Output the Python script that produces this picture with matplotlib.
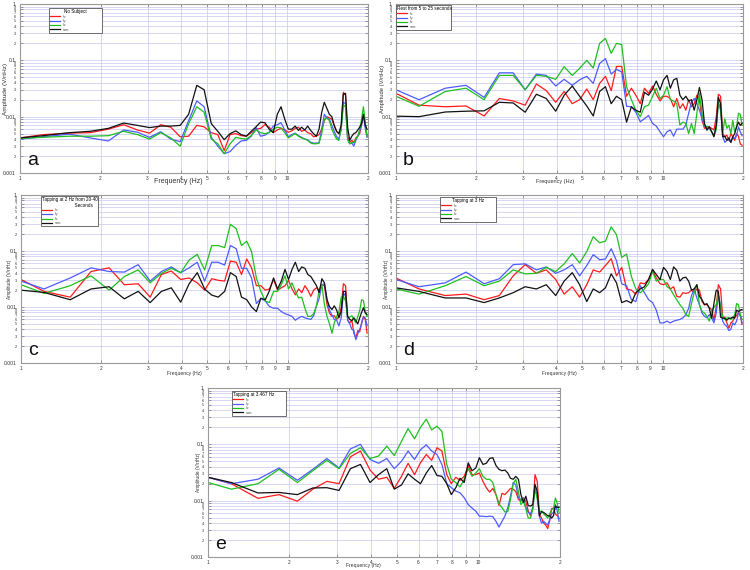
import matplotlib
matplotlib.use("Agg")
import matplotlib.pyplot as plt

plt.rcParams['font.family'] = ['Liberation Sans', 'DejaVu Sans']

freq = [1.0, 1.22, 1.53, 1.83, 2.14, 2.44, 2.75, 3.05, 3.36, 3.66, 3.97, 4.27, 4.58, 4.88, 5.19,
        5.49, 5.80, 6.10, 6.41, 6.71, 7.02, 7.32, 7.63, 7.93, 8.24, 8.54, 8.85, 9.16, 9.46, 9.77,
        10.07, 10.38, 10.68, 10.99, 11.29, 11.60, 11.90, 12.21, 12.51, 12.82, 13.12, 13.43, 13.73,
        14.04, 14.34, 14.65, 14.95, 15.26, 15.56, 15.87, 16.17, 16.48, 16.78, 17.09, 17.40, 17.70,
        18.01, 18.31, 18.62, 18.92, 19.23, 19.53, 19.84]

# Panel a: No Subject
a_x = [0.0042, 0.0048, 0.0051, 0.0052, 0.0060, 0.0072, 0.0058, 0.0051, 0.0072, 0.0065,
       0.0044, 0.0045, 0.0070, 0.0066, 0.0052, 0.0048, 0.0025, 0.0048, 0.0050, 0.0046,
       0.0045, 0.0052, 0.0060, 0.0062, 0.0072, 0.0065, 0.0052, 0.0058, 0.0062, 0.0058,
       0.0053, 0.0056, 0.0062, 0.0065, 0.0055, 0.0058, 0.0052, 0.0050, 0.0044, 0.0045,
       0.0048, 0.0060, 0.0085, 0.0100, 0.0095, 0.0090, 0.0070, 0.0055, 0.0050, 0.0060,
       0.0270, 0.0240, 0.0045, 0.0035, 0.0038, 0.0035, 0.0042, 0.0045, 0.0050, 0.0070,
       0.0110, 0.0070, 0.0045]
a_y = [0.0040, 0.0044, 0.0049, 0.0042, 0.0037, 0.0058, 0.0053, 0.0043, 0.0054, 0.0040,
       0.0036, 0.0085, 0.0190, 0.0150, 0.0043, 0.0030, 0.0022, 0.0024, 0.0031, 0.0037,
       0.0038, 0.0045, 0.0064, 0.0045, 0.0047, 0.0053, 0.0068, 0.0072, 0.0078, 0.0058,
       0.0044, 0.0048, 0.0051, 0.0046, 0.0043, 0.0040, 0.0039, 0.0035, 0.0034, 0.0034,
       0.0034, 0.0060, 0.0110, 0.0095, 0.0090, 0.0070, 0.0055, 0.0044, 0.0040, 0.0060,
       0.0180, 0.0170, 0.0040, 0.0033, 0.0034, 0.0030, 0.0038, 0.0045, 0.0055, 0.0075,
       0.0105, 0.0062, 0.0043]
a_z = [0.0041, 0.0043, 0.0045, 0.0045, 0.0046, 0.0055, 0.0048, 0.0040, 0.0052, 0.0042,
       0.0030, 0.0075, 0.0150, 0.0120, 0.0040, 0.0033, 0.0022, 0.0033, 0.0043, 0.0041,
       0.0040, 0.0046, 0.0058, 0.0052, 0.0050, 0.0052, 0.0060, 0.0065, 0.0063, 0.0052,
       0.0042, 0.0046, 0.0050, 0.0045, 0.0042, 0.0040, 0.0038, 0.0034, 0.0033, 0.0033,
       0.0034, 0.0050, 0.0090, 0.0095, 0.0085, 0.0060, 0.0048, 0.0040, 0.0038, 0.0060,
       0.0160, 0.0150, 0.0040, 0.0033, 0.0035, 0.0034, 0.0040, 0.0045, 0.0060, 0.0090,
       0.0150, 0.0080, 0.0045]
a_sum = [0.0042, 0.0046, 0.0052, 0.0055, 0.0062, 0.0077, 0.0070, 0.0064, 0.0068, 0.0068,
         0.0070, 0.0110, 0.0360, 0.0300, 0.0075, 0.0055, 0.0039, 0.0050, 0.0056, 0.0048,
         0.0045, 0.0055, 0.0066, 0.0080, 0.0078, 0.0060, 0.0052, 0.0110, 0.0150, 0.0090,
         0.0060, 0.0060, 0.0068, 0.0057, 0.0065, 0.0058, 0.0068, 0.0057, 0.0050, 0.0045,
         0.0060, 0.0120, 0.0180, 0.0140, 0.0110, 0.0100, 0.0070, 0.0055, 0.0050, 0.0070,
         0.0250, 0.0260, 0.0065, 0.0038, 0.0045, 0.0050, 0.0052, 0.0058, 0.0065, 0.0075,
         0.0110, 0.0070, 0.0060]

# Panel b: Rest
b_x = [0.026, 0.016, 0.015, 0.0155, 0.0103, 0.021, 0.019, 0.016, 0.038, 0.029,
       0.018, 0.028, 0.017, 0.020, 0.031, 0.020, 0.039, 0.052, 0.029, 0.078,
       0.078, 0.023, 0.032, 0.024, 0.017, 0.032, 0.026, 0.035, 0.025, 0.019,
       0.023, 0.023, 0.021, 0.015, 0.021, 0.014, 0.017, 0.013, 0.020, 0.015,
       0.017, 0.024, 0.020, 0.0086, 0.0062, 0.0066, 0.0066, 0.0062, 0.0058, 0.0098,
       0.025, 0.023, 0.0050, 0.0044, 0.0047, 0.0038, 0.0050, 0.0044, 0.0038, 0.0050,
       0.0045, 0.0033, 0.0031]
b_y = [0.030, 0.020, 0.032, 0.036, 0.022, 0.060, 0.060, 0.030, 0.057, 0.054,
       0.035, 0.046, 0.036, 0.045, 0.052, 0.039, 0.088, 0.107, 0.057, 0.069,
       0.062, 0.0153, 0.015, 0.012, 0.0081, 0.0092, 0.0105, 0.0076, 0.0068, 0.0054,
       0.0044, 0.0054, 0.0058, 0.0045, 0.0060, 0.0060, 0.0060, 0.0071, 0.0115, 0.018,
       0.021, 0.017, 0.013, 0.0092, 0.0070, 0.0058, 0.0066, 0.0054, 0.0046, 0.0066,
       0.017, 0.015, 0.0045, 0.0035, 0.0038, 0.0039, 0.0035, 0.0044, 0.0041, 0.0046,
       0.0066, 0.0054, 0.0046]
b_z = [0.023, 0.0153, 0.028, 0.032, 0.020, 0.054, 0.054, 0.030, 0.054, 0.052,
       0.046, 0.077, 0.054, 0.072, 0.100, 0.073, 0.200, 0.245, 0.133, 0.200,
       0.190, 0.034, 0.020, 0.013, 0.010, 0.015, 0.016, 0.023, 0.032, 0.021,
       0.024, 0.034, 0.020, 0.019, 0.017, 0.0071, 0.0080, 0.0076, 0.0050, 0.0076,
       0.0050, 0.0115, 0.026, 0.0115, 0.0071, 0.0066, 0.0062, 0.0054, 0.0046, 0.0058,
       0.018, 0.013, 0.0050, 0.0092, 0.0062, 0.0071, 0.0050, 0.0086, 0.0054, 0.0066,
       0.0115, 0.011, 0.0071]
b_sum = [0.0102, 0.0100, 0.0121, 0.0125, 0.0127, 0.018, 0.0175, 0.012, 0.025, 0.021,
         0.0125, 0.024, 0.035, 0.023, 0.0155, 0.0103, 0.028, 0.034, 0.017, 0.023,
         0.020, 0.0080, 0.015, 0.013, 0.012, 0.027, 0.024, 0.031, 0.043, 0.030,
         0.045, 0.054, 0.032, 0.045, 0.048, 0.024, 0.020, 0.023, 0.019, 0.020,
         0.013, 0.020, 0.033, 0.020, 0.0076, 0.0058, 0.0066, 0.0054, 0.0044, 0.0070,
         0.022, 0.017, 0.0044, 0.0045, 0.0038, 0.0042, 0.0035, 0.0044, 0.0050, 0.0066,
         0.0080, 0.0070, 0.0076]

# Panel c: Tapping at 2 Hz
c_x = [0.031, 0.019, 0.015, 0.043, 0.050, 0.025, 0.026, 0.015, 0.038, 0.044,
       0.031, 0.033, 0.027, 0.020, 0.032, 0.030, 0.029, 0.066, 0.063, 0.038,
       0.072, 0.050, 0.024, 0.024, 0.020, 0.021, 0.031, 0.020, 0.022, 0.024,
       0.030, 0.021, 0.0165, 0.021, 0.018, 0.024, 0.020, 0.0155, 0.020, 0.022,
       0.020, 0.025, 0.024, 0.011, 0.0078, 0.0068, 0.0070, 0.0060, 0.0068, 0.0098,
       0.026, 0.024, 0.0058, 0.0052, 0.0058, 0.0034, 0.0028, 0.0038, 0.0036, 0.0052,
       0.0068, 0.0060, 0.0034]
c_y = [0.029, 0.021, 0.033, 0.050, 0.043, 0.042, 0.057, 0.029, 0.043, 0.052,
       0.041, 0.050, 0.063, 0.029, 0.063, 0.063, 0.056, 0.125, 0.110, 0.049,
       0.049, 0.033, 0.0115, 0.0143, 0.0128, 0.0102, 0.0095, 0.0095, 0.0083, 0.0076,
       0.0072, 0.0068, 0.0058, 0.0064, 0.0068, 0.0064, 0.0062, 0.0060, 0.0070, 0.0105,
       0.0143, 0.025, 0.026, 0.0135, 0.0088, 0.0072, 0.0060, 0.0058, 0.0046, 0.0064,
       0.018, 0.0155, 0.0058, 0.0050, 0.0040, 0.0038, 0.0026, 0.0033, 0.0040, 0.0050,
       0.0066, 0.0064, 0.0046]
c_z = [0.025, 0.0175, 0.024, 0.036, 0.020, 0.035, 0.046, 0.027, 0.040, 0.049,
       0.041, 0.069, 0.087, 0.046, 0.125, 0.125, 0.115, 0.300, 0.250, 0.125,
       0.150, 0.097, 0.033, 0.019, 0.0128, 0.012, 0.019, 0.019, 0.025, 0.036,
       0.021, 0.027, 0.019, 0.0145, 0.015, 0.0095, 0.0068, 0.0068, 0.0076, 0.0105,
       0.020, 0.025, 0.011, 0.0068, 0.0050, 0.0034, 0.0052, 0.0068, 0.0083, 0.0150,
       0.0155, 0.0128, 0.0064, 0.0066, 0.0070, 0.0060, 0.0052, 0.0068, 0.0086, 0.0135,
       0.0130, 0.0083, 0.0068]
c_sum = [0.020, 0.0182, 0.0135, 0.021, 0.023, 0.014, 0.019, 0.012, 0.019, 0.022,
         0.0122, 0.026, 0.041, 0.021, 0.0163, 0.015, 0.019, 0.041, 0.035, 0.015,
         0.0135, 0.010, 0.0083, 0.0143, 0.0135, 0.0195, 0.033, 0.021, 0.029, 0.047,
         0.031, 0.047, 0.063, 0.043, 0.052, 0.049, 0.038, 0.035, 0.029, 0.024,
         0.018, 0.032, 0.027, 0.0135, 0.0102, 0.0090, 0.0105, 0.0088, 0.0064, 0.0083,
         0.019, 0.019, 0.0068, 0.0060, 0.0057, 0.0064, 0.0057, 0.0050, 0.0064, 0.0080,
         0.0097, 0.0078, 0.0073]

# Panel d: Tapping at 3 Hz
d_x = [0.033, 0.021, 0.016, 0.017, 0.0135, 0.016, 0.036, 0.057, 0.040, 0.046,
       0.031, 0.017, 0.023, 0.015, 0.025, 0.046, 0.042, 0.055, 0.073, 0.036,
       0.051, 0.021, 0.020, 0.017, 0.027, 0.026, 0.031, 0.045, 0.033, 0.026,
       0.025, 0.027, 0.021, 0.023, 0.0155, 0.015, 0.018, 0.0175, 0.018, 0.020,
       0.018, 0.021, 0.020, 0.0125, 0.011, 0.011, 0.0098, 0.0090, 0.0058, 0.010,
       0.025, 0.021, 0.0066, 0.0066, 0.0052, 0.0042, 0.0052, 0.0056, 0.0066, 0.0070,
       0.0080, 0.0070, 0.0050]
d_y = [0.031, 0.023, 0.027, 0.042, 0.026, 0.032, 0.057, 0.059, 0.046, 0.052,
       0.040, 0.046, 0.057, 0.036, 0.055, 0.086, 0.070, 0.072, 0.110, 0.067,
       0.026, 0.024, 0.0135, 0.0125, 0.024, 0.018, 0.0135, 0.012, 0.0088, 0.0052,
       0.0052, 0.0056, 0.0052, 0.0056, 0.0058, 0.0060, 0.0064, 0.0073, 0.0095, 0.016,
       0.021, 0.0145, 0.011, 0.0078, 0.0068, 0.0064, 0.0073, 0.0064, 0.0052, 0.0078,
       0.016, 0.011, 0.0056, 0.0048, 0.0045, 0.0038, 0.0040, 0.0052, 0.0048, 0.0056,
       0.0078, 0.0073, 0.0052]
d_z = [0.021, 0.017, 0.024, 0.035, 0.024, 0.029, 0.046, 0.039, 0.040, 0.051,
       0.043, 0.059, 0.090, 0.061, 0.098, 0.180, 0.140, 0.150, 0.270, 0.195,
       0.077, 0.088, 0.035, 0.021, 0.018, 0.021, 0.026, 0.043, 0.029, 0.031,
       0.031, 0.023, 0.021, 0.0165, 0.0135, 0.011, 0.0095, 0.0073, 0.0068, 0.0115,
       0.018, 0.025, 0.011, 0.0083, 0.0078, 0.0068, 0.0056, 0.0086, 0.0098, 0.011,
       0.0165, 0.0098, 0.0068, 0.0060, 0.0064, 0.0064, 0.0060, 0.0064, 0.0073, 0.0115,
       0.011, 0.0073, 0.0060]
d_sum = [0.022, 0.019, 0.0145, 0.0145, 0.012, 0.0145, 0.018, 0.023, 0.021, 0.025,
         0.016, 0.029, 0.041, 0.025, 0.0125, 0.021, 0.018, 0.022, 0.039, 0.027,
         0.012, 0.013, 0.0118, 0.018, 0.021, 0.023, 0.031, 0.047, 0.038, 0.031,
         0.051, 0.043, 0.031, 0.052, 0.045, 0.029, 0.033, 0.034, 0.029, 0.020,
         0.021, 0.025, 0.0155, 0.0135, 0.011, 0.0115, 0.0095, 0.0063, 0.0115, 0.020,
         0.019, 0.0066, 0.0063, 0.0063, 0.0058, 0.0063, 0.0063, 0.0066, 0.0063, 0.0088,
         0.0083, 0.0088, 0.0090]

# Panel e: Tapping at 3.467 Hz
e_x = [0.026, 0.020, 0.011, 0.0128, 0.0098, 0.016, 0.022, 0.020, 0.060, 0.076,
       0.035, 0.024, 0.026, 0.0165, 0.027, 0.046, 0.029, 0.047, 0.066, 0.052,
       0.087, 0.076, 0.029, 0.020, 0.026, 0.023, 0.027, 0.042, 0.029, 0.029,
       0.031, 0.022, 0.017, 0.0142, 0.0165, 0.0128, 0.0082, 0.0135, 0.0128, 0.0145,
       0.0165, 0.016, 0.0145, 0.0105, 0.0098, 0.011, 0.0098, 0.0066, 0.0054, 0.0074,
       0.029, 0.022, 0.0058, 0.0049, 0.0040, 0.0037, 0.0032, 0.0044, 0.0072, 0.0074,
       0.0058, 0.0054, 0.0049]
e_y = [0.026, 0.020, 0.024, 0.038, 0.023, 0.036, 0.056, 0.038, 0.083, 0.100,
       0.054, 0.046, 0.056, 0.037, 0.050, 0.076, 0.054, 0.080, 0.098, 0.076,
       0.066, 0.044, 0.020, 0.017, 0.0148, 0.0138, 0.0113, 0.0085, 0.0074, 0.0065,
       0.0053, 0.0053, 0.0052, 0.0053, 0.0052, 0.0043, 0.0034, 0.0043, 0.0053, 0.0074,
       0.012, 0.021, 0.019, 0.0113, 0.0104, 0.0113, 0.0076, 0.0062, 0.0058, 0.0076,
       0.016, 0.0128, 0.0053, 0.0040, 0.0043, 0.0040, 0.0037, 0.0046, 0.0058, 0.0062,
       0.0085, 0.0066, 0.0043]
e_z = [0.021, 0.016, 0.020, 0.036, 0.021, 0.034, 0.052, 0.037, 0.069, 0.087,
       0.056, 0.062, 0.093, 0.063, 0.113, 0.190, 0.125, 0.200, 0.280, 0.180,
       0.210, 0.170, 0.044, 0.024, 0.021, 0.0175, 0.024, 0.037, 0.027, 0.031,
       0.037, 0.027, 0.024, 0.024, 0.021, 0.0128, 0.0088, 0.0075, 0.0063, 0.0064,
       0.0104, 0.020, 0.024, 0.0145, 0.0085, 0.0098, 0.0072, 0.0049, 0.0049, 0.0072,
       0.0165, 0.0105, 0.0062, 0.0066, 0.0058, 0.0054, 0.0049, 0.0058, 0.0070, 0.0072,
       0.0112, 0.0090, 0.0062]
e_sum = [0.026, 0.021, 0.0137, 0.014, 0.0128, 0.0168, 0.017, 0.0152, 0.037, 0.044,
         0.021, 0.029, 0.037, 0.016, 0.019, 0.030, 0.024, 0.020, 0.031, 0.042,
         0.028, 0.027, 0.020, 0.0128, 0.017, 0.025, 0.021, 0.047, 0.034, 0.038,
         0.058, 0.044, 0.046, 0.056, 0.058, 0.042, 0.036, 0.034, 0.035, 0.031,
         0.025, 0.024, 0.027, 0.024, 0.0128, 0.0093, 0.012, 0.0082, 0.0080, 0.0086,
         0.0195, 0.0145, 0.0054, 0.0064, 0.0062, 0.0058, 0.0054, 0.0054, 0.0049, 0.0054,
         0.0080, 0.0076, 0.0076]

legend_labels = ["fx", "fy", "fz", "sum"]
colors = ["#ff1a1a", "#4d5cff", "#1fbf1f", "#111111"]

panels = [
    # letter, legend title, series, axes rect (px: left, top, right, bottom),
    # legend box (x0, top, width) in axes coords, xlabel (x, y, size), ylabel (x, size), title align
    ("a", "No Subject", [a_x, a_y, a_z, a_sum], (20, 4, 368, 173),
     (0.083, 0.976, 0.152), (0.455, -0.05, 5.0), (-0.043, 4.6), "center"),
    ("b", "Rest from 5 to 25 seconds", [b_x, b_y, b_z, b_sum], (396, 4, 743, 173),
     (0.0, 0.994, 0.158), (0.46, -0.05, 4.0), (-0.040, 4.2), "left"),
    ("c", "Tapping at 2 Hz from 20-40\n                          Seconds", [c_x, c_y, c_z, c_sum],
     (21, 195, 368, 363), (0.058, 0.995, 0.164), (0.47, -0.06, 3.6), (-0.032, 3.4), "left"),
    ("d", "Tapping at 3 Hz", [d_x, d_y, d_z, d_sum], (396, 195, 743, 363),
     (0.127, 0.988, 0.161), (0.47, -0.06, 3.6), (-0.026, 3.4), "center"),
    ("e", "Tapping at 3.467 Hz", [e_x, e_y, e_z, e_sum], (208, 388, 560, 557),
     (0.068, 0.982, 0.153), (0.44, -0.05, 3.6), (-0.028, 3.4), "left"),
]

W, H = 750, 570
fig = plt.figure(figsize=(7.5, 5.7), dpi=100)
fig.patch.set_facecolor("white")

xt = [1, 2, 3, 4, 5, 6, 7, 8, 9, 10, 20]
xtl = ["1", "2", "3", "4", "5", "6", "7", "8", "9", "10", "2"]
yt, ytl = [], []
for k, base in enumerate([0.001, 0.01, 0.1]):
    for m in range(1, 10):
        yt.append(m * base)
        ytl.append(("0.001", "0.01", "0.1")[k] if m == 1 else str(m))
yt.append(1.0)
ytl.append("1")
majors = {0.001, 0.01, 0.1, 1.0}

for letter, title, series, (l, t, r, b), (lx, ly, lw_), (xlx, xly, xls), (ylx, yls), talign in panels:
    ax = fig.add_axes([l / W, 1 - b / H, (r - l) / W, (b - t) / H])
    ax.set_xscale("log")
    ax.set_yscale("log")
    handles = []
    for s, c, lab in zip(series, colors, legend_labels):
        ln, = ax.plot(freq, s, color=c, lw=0.9, label=lab)
        handles.append(ln)
    ax.set_xlim(1, 20)
    ax.set_ylim(0.001, 1)
    ax.xaxis.set_minor_locator(matplotlib.ticker.NullLocator())
    ax.yaxis.set_minor_locator(matplotlib.ticker.NullLocator())
    ax.set_xticks(xt)
    ax.set_xticklabels(xtl)
    ax.set_yticks(yt)
    ax.set_yticklabels(ytl)
    for lab, val in zip(ax.get_yticklabels(), yt):
        lab.set_fontsize(3.6 if val in majors else 2.8)
    for lab in ax.get_xticklabels():
        lab.set_fontsize(3.4)
    ax.tick_params(which="both", direction="in", length=2, width=0.5, color="#777777",
                   top=True, right=True, labelcolor="#333333")
    ax.tick_params(axis="x", pad=2)
    ax.tick_params(axis="y", pad=3)
    ax.grid(True, color="#c8c8f0", lw=0.5)
    ax.set_axisbelow(True)
    for sp in ax.spines.values():
        sp.set_color("#9a9a9a")
        sp.set_linewidth(0.8)
    ax.set_xlabel("Frequency (Hz)", fontsize=xls, color="#333333")
    ax.xaxis.set_label_coords(xlx, xly)
    ax.xaxis.label.set_verticalalignment("center")
    ax.set_ylabel("Amplitude (V/rtHz)", fontsize=yls, color="#333333")
    ax.yaxis.set_label_coords(ylx, 0.5)
    ax.yaxis.label.set_verticalalignment("center")
    ax.text(0.02, 0.05, letter, transform=ax.transAxes, fontsize=14, color="#111111",
            ha="left", va="baseline")
    leg = ax.legend(handles=handles, title=title, loc="upper left",
                    bbox_to_anchor=(lx, ly - 0.16, lw_, 0.16), mode="expand",
                    fontsize=2.4, title_fontsize=3.3, frameon=True, fancybox=False,
                    edgecolor="#555555", framealpha=1, borderpad=0.35, labelspacing=0.1,
                    handlelength=3.0, handletextpad=0.8, borderaxespad=0)
    leg.get_frame().set_linewidth(0.6)
    leg._legend_box.align = talign
    for txt in leg.get_texts():
        txt.set_color("#555555")

fig.savefig("out.png", dpi=100, facecolor="white")
